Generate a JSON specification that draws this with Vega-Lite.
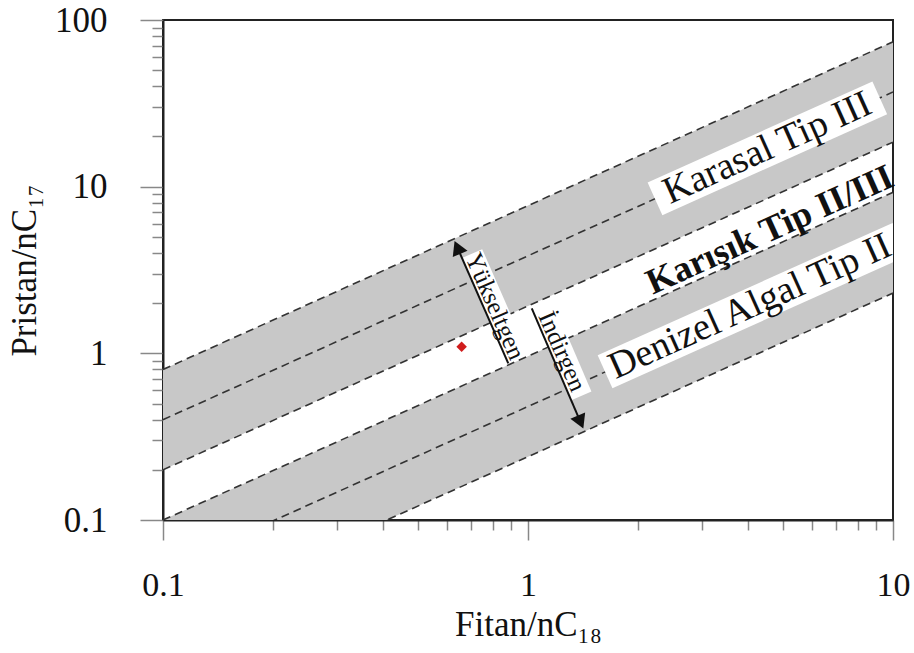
{
  "$schema": "https://vega.github.io/schema/vega-lite/v6.json",
  "width": 730,
  "height": 500,
  "autosize": {"type": "none"},
  "padding": {"left": 163, "top": 20, "right": 21, "bottom": 133},
  "background": "white",
  "config": {
    "view": {"stroke": "#222", "strokeWidth": 2},
    "font": "Liberation Serif"
  },
  "datasets": {
    "bands": [
      {"band": "A", "x": 0.1, "y": 0.2, "y2": 0.8},
      {"band": "A", "x": 10, "y": 18.5, "y2": 74},
      {"band": "B", "x": 0.1, "y": 0.025, "y2": 0.1},
      {"band": "B", "x": 10, "y": 2.3, "y2": 9.25}
    ],
    "lines": [
      {"id": "L1", "x": 0.1, "y": 0.8}, {"id": "L1", "x": 10, "y": 74},
      {"id": "L2", "x": 0.1, "y": 0.4}, {"id": "L2", "x": 10, "y": 37},
      {"id": "L3", "x": 0.1, "y": 0.2}, {"id": "L3", "x": 10, "y": 18.5},
      {"id": "L4", "x": 0.1, "y": 0.1}, {"id": "L4", "x": 10, "y": 9.25},
      {"id": "L5", "x": 0.1, "y": 0.05}, {"id": "L5", "x": 10, "y": 4.6},
      {"id": "L6", "x": 0.1, "y": 0.025}, {"id": "L6", "x": 10, "y": 2.3}
    ],
    "bandBoxes": [
      {"id": "Karasal", "x": 2.228, "y": 8.45}, {"id": "Karasal", "x": 9.2, "y": 34.1},
      {"id": "Denizel", "x": 1.626, "y": 0.775}, {"id": "Denizel", "x": 10.45, "y": 4.83}
    ],
    "arrowBoxes": [
      {"id": "Y", "x": 0.7029, "y": 3.967}, {"id": "Y", "x": 0.9394, "y": 0.93},
      {"id": "I", "x": 1.099, "y": 1.905}, {"id": "I", "x": 1.4, "y": 0.556}
    ],
    "bandLabels": [
      {"label": "Karasal Tip III", "x": 4.53, "y": 17.0},
      {"label": "Denizel Algal Tip II", "x": 4.06, "y": 1.905}
    ],
    "mixLabel": [
      {"label": "Karışık Tip II/III", "x": 4.6, "y": 5.5}
    ],
    "arrowLabels": [
      {"label": "Yükseltgen", "x": 0.8125, "y": 1.92},
      {"label": "İndirgen", "x": 1.241, "y": 1.028}
    ],
    "arrows": [
      {"id": "Y", "x": 0.883, "y": 0.871}, {"id": "Y", "x": 0.6404, "y": 4.315},
      {"id": "I", "x": 1.024, "y": 1.86}, {"id": "I", "x": 1.393, "y": 0.387}
    ],
    "heads": [
      {"dir": "up", "x": 0.6404, "y": 4.315},
      {"dir": "down", "x": 1.393, "y": 0.387}
    ],
    "sample": [
      {"x": 0.658, "y": 1.096}
    ]
  },
  "encoding": {
    "x": {
      "field": "x", "type": "quantitative",
      "scale": {"type": "log", "domain": [0.1, 10], "nice": false},
      "axis": {
        "title": "Fitan/nC₁₈",
        "values": [0.1, 0.2, 0.3, 0.4, 0.5, 0.6, 0.7, 0.8, 0.9, 1, 2, 3, 4, 5, 6, 7, 8, 9, 10],
        "grid": false,
        "domainColor": "#222", "domainWidth": 2,
        "tickColor": "#888", "tickWidth": 1.5,
        "tickSize": {"condition": {"test": "datum.value == 0.1 || datum.value == 1 || datum.value == 10", "value": 20}, "value": 10},
        "labelExpr": "datum.value == 0.1 || datum.value == 1 || datum.value == 10 ? format(datum.value, '~g') : ''",
        "labelFont": "Liberation Serif", "labelFontSize": 34, "labelColor": "#111",
        "labelPadding": 28, "labelFlush": false, "labelOverlap": false,
        "titleFont": "Liberation Serif", "titleFontSize": 35, "titleFontWeight": "normal", "titleColor": "#111",
        "titlePadding": 5
      }
    },
    "y": {
      "field": "y", "type": "quantitative",
      "scale": {"type": "log", "domain": [0.1, 100], "nice": false},
      "axis": {
        "title": "Pristan/nC₁₇",
        "values": [0.1, 0.2, 0.3, 0.4, 0.5, 0.6, 0.7, 0.8, 0.9, 1, 2, 3, 4, 5, 6, 7, 8, 9, 10, 20, 30, 40, 50, 60, 70, 80, 90, 100],
        "grid": false,
        "domainColor": "#222", "domainWidth": 2,
        "tickColor": "#888", "tickWidth": 1.5,
        "tickSize": {"condition": {"test": "datum.value == 0.1 || datum.value == 1 || datum.value == 10 || datum.value == 100", "value": 23}, "value": 11},
        "labelExpr": "datum.value == 0.1 || datum.value == 1 || datum.value == 10 || datum.value == 100 ? format(datum.value, '~g') : ''",
        "labelFont": "Liberation Serif", "labelFontSize": 35, "labelColor": "#111",
        "labelPadding": 33, "labelFlush": false, "labelOverlap": false,
        "titleFont": "Liberation Serif", "titleFontSize": 35, "titleFontWeight": "normal", "titleColor": "#111",
        "titlePadding": 12
      }
    }
  },
  "layer": [
    {
      "data": {"name": "bands"},
      "mark": {"type": "area", "color": "#c8c8c8", "clip": true, "opacity": 1},
      "encoding": {"y2": {"field": "y2"}, "detail": {"field": "band"}}
    },
    {
      "data": {"name": "lines"},
      "mark": {"type": "line", "color": "#333", "strokeWidth": 1.6, "strokeDash": [8, 5], "clip": true},
      "encoding": {"detail": {"field": "id"}}
    },
    {
      "data": {"name": "bandBoxes"},
      "mark": {"type": "line", "color": "white", "strokeWidth": 36, "strokeCap": "butt", "clip": true},
      "encoding": {"detail": {"field": "id"}}
    },
    {
      "data": {"name": "arrowBoxes"},
      "mark": {"type": "line", "color": "white", "strokeWidth": 22, "strokeCap": "butt", "clip": true},
      "encoding": {"detail": {"field": "id"}}
    },
    {
      "data": {"name": "bandLabels"},
      "mark": {"type": "text", "font": "Liberation Serif", "fontSize": 38, "angle": -24.2, "align": "center", "baseline": "middle", "color": "#111", "clip": true},
      "encoding": {"text": {"field": "label"}}
    },
    {
      "data": {"name": "mixLabel"},
      "mark": {"type": "text", "font": "Liberation Serif", "fontSize": 36, "fontWeight": "bold", "angle": -24.2, "align": "center", "baseline": "middle", "color": "#111"},
      "encoding": {"text": {"field": "label"}}
    },
    {
      "data": {"name": "arrowLabels"},
      "mark": {"type": "text", "font": "Liberation Serif", "fontSize": 25, "angle": 66.4, "align": "center", "baseline": "middle", "color": "#111"},
      "encoding": {"text": {"field": "label"}}
    },
    {
      "data": {"name": "arrows"},
      "mark": {"type": "line", "color": "#111", "strokeWidth": 2},
      "encoding": {"detail": {"field": "id"}}
    },
    {
      "data": {"name": "heads"},
      "mark": {"type": "point", "filled": true, "color": "#111", "size": 260, "angle": 336.5, "opacity": 1},
      "encoding": {
        "shape": {"field": "dir", "type": "nominal", "scale": {"domain": ["up", "down"], "range": ["triangle-up", "triangle-down"]}, "legend": null}
      }
    },
    {
      "data": {"name": "sample"},
      "mark": {"type": "point", "filled": true, "shape": "diamond", "color": "#d01c1c", "size": 110, "opacity": 1}
    }
  ]
}
